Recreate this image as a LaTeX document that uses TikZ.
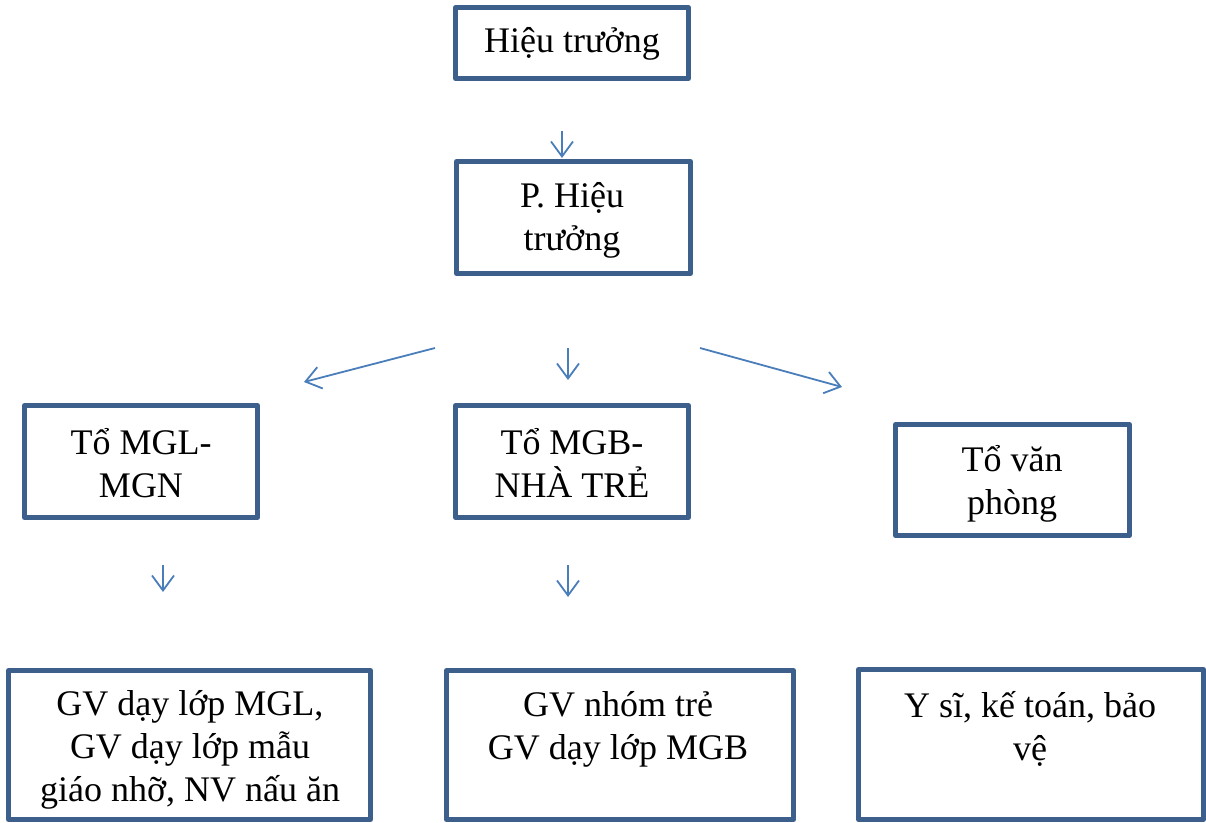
\documentclass[tikz,border=0pt]{standalone}
\usepackage{fontspec}
\setmainfont{Liberation Serif}
\usetikzlibrary{arrows.meta}
\definecolor{boxblue}{HTML}{3D5F8C}
\definecolor{arrblue}{HTML}{4A7EBB}
\tikzset{
  box/.style={draw=boxblue, line width=5pt, line join=round},
  txt/.style={align=center, inner sep=0pt, font=\fontsize{36pt}{43pt}\selectfont},
  conn/.style={draw=arrblue, line width=1.8pt, -{Straight Barb[length=15pt,width=22pt,line width=1.8pt]}}
}
\begin{document}
\begin{tikzpicture}[x=1pt,y=-1pt]
\useasboundingbox (0,0) rectangle (1206,822);
% boxes
\draw[box] (455.5,7.5) rectangle (688.5,78.5);
\draw[box] (456.5,161.5) rectangle (690.5,273.5);
\draw[box] (24.5,405.5) rectangle (257.5,517.5);
\draw[box] (455.5,405.5) rectangle (688.5,517.5);
\draw[box] (895.5,424.5) rectangle (1129.5,535.5);
\draw[box] (8.5,670.5) rectangle (370.5,819.5);
\draw[box] (446.5,670.5) rectangle (793.5,819.5);
\draw[box] (858.5,669.5) rectangle (1203.5,819.5);
% texts
\node[txt] (ht) at (572,44) {Hiệu trưởng};
\node[txt] (pht) at (572,220) {P. Hiệu\\trưởng};
\node[txt] (mgl) at (141,463) {Tổ MGL-\\MGN};
\node[txt] (mgb) at (572,463) {Tổ MGB-\\NHÀ TRẺ};
\node[txt] (vp) at (1012,484) {Tổ văn\\phòng};
\node[txt] (gv1) at (190,750) {GV dạy lớp MGL,\\GV dạy lớp mẫu\\giáo nhỡ, NV nấu ăn};
\node[txt] (gv2) at (618,729) {GV nhóm trẻ\\GV dạy lớp MGB};
\node[txt] (ys) at (1030,729) {Y sĩ, kế toán, bảo\\vệ};
% arrow end points
\coordinate (a1s) at (562,131);
\coordinate (a1e) at (562,158);
\coordinate (a2s) at (435,348);
\coordinate (a2e) at (304,382);
\coordinate (a3s) at (568,348);
\coordinate (a3e) at (568,380);
\coordinate (a4s) at (700,348);
\coordinate (a4e) at (842,387);
\coordinate (a5s) at (163,565);
\coordinate (a5e) at (163,592);
\coordinate (a6s) at (568,565);
\coordinate (a6e) at (568,597);
\draw[conn] (a1s) -- (a1e);
\draw[conn] (a2s) -- (a2e);
\draw[conn] (a3s) -- (a3e);
\draw[conn] (a4s) -- (a4e);
\draw[conn] (a5s) -- (a5e);
\draw[conn] (a6s) -- (a6e);
\end{tikzpicture}
\end{document}
